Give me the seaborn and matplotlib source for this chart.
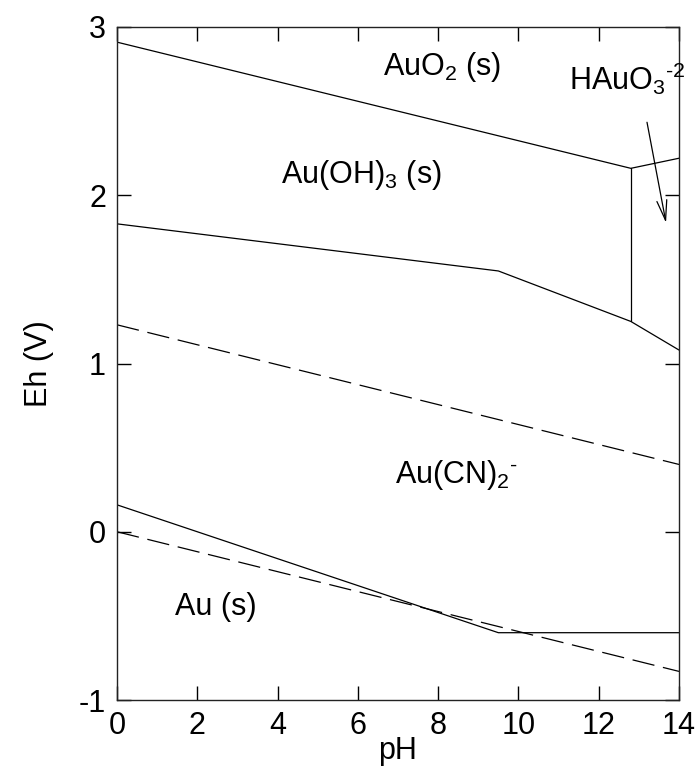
import matplotlib
matplotlib.use("Agg")
import matplotlib.pyplot as plt
import seaborn as sns
import pandas as pd

sns.set_style("ticks")
plt.rcParams['font.family'] = ['Liberation Sans', 'DejaVu Sans']
plt.rcParams['mathtext.fontset'] = 'custom'
plt.rcParams['mathtext.rm'] = 'Liberation Sans'
plt.rcParams['mathtext.it'] = 'Liberation Sans'
plt.rcParams['axes.unicode_minus'] = False
plt.rcParams['text.color'] = 'black'
plt.rcParams['xtick.color'] = 'black'
plt.rcParams['ytick.color'] = 'black'
plt.rcParams['axes.labelcolor'] = 'black'

# Solid phase boundaries (pH, Eh)
auo2_ph = [0, 12.8, 14]
auo2_eh = [2.91, 2.16, 2.22]
hauo3_ph = [12.8, 12.8]
hauo3_eh = [2.16, 1.25]
auoh3_ph = [0, 9.5, 12.8, 14]
auoh3_eh = [1.83, 1.55, 1.25, 1.08]
au_ph = [0, 9.5, 14]
au_eh = [0.16, -0.60, -0.60]
# Water stability lines (dashed)
o2_ph = [0, 14]
o2_eh = [1.23, 0.40]
h2_ph = [0, 14]
h2_eh = [0.0, -0.83]

labels = ["AuO$_2$ (s)", r"HAuO$_3$$^{\text{-2}}$", "Au(OH)$_3$ (s)",
          r"Au(CN)$_2$$^{\text{-}}$", "Au (s)"]
label_ph = [8.1, 12.7, 6.08, 8.45, 2.45]
label_eh = [2.76, 2.69, 2.12, 0.34, -0.45]

fig = plt.figure(figsize=(6.99, 7.72), dpi=100)
ax = fig.add_axes([117/699, 1-700/772, (679-117)/699, (700-27)/772])

solid = [(auo2_ph, auo2_eh), (hauo3_ph, hauo3_eh), (auoh3_ph, auoh3_eh), (au_ph, au_eh)]
for xs, ys in solid:
    sns.lineplot(x=xs, y=ys, ax=ax, color="black", lw=0.9, sort=False, estimator=None)
for xs, ys in [(o2_ph, o2_eh), (h2_ph, h2_eh)]:
    sns.lineplot(x=xs, y=ys, ax=ax, color="black", lw=0.9, sort=False, estimator=None,
                 linestyle=(0, (18, 7)))

fs = 22
for t, x, y in zip(labels, label_ph, label_eh):
    ax.text(x, y, t, fontsize=fs, ha="center", va="center")

ax.annotate("", xy=(13.69, 1.82), xytext=(13.19, 2.45),
            arrowprops=dict(arrowstyle="->,head_length=0.8,head_width=0.2",
                            color="black", lw=0.9, mutation_scale=18))

ax.set_xlim(0, 14)
ax.set_ylim(-1, 3)
ax.set_xticks(range(0, 15, 2))
ax.set_yticks(range(-1, 4))
ax.tick_params(direction="in", length=10, width=1, top=True, right=True,
               labelsize=fs, pad=8, color="black", labelcolor="black")
ax.set_xlabel("pH", fontsize=fs, labelpad=-4)
ax.set_ylabel("Eh (V)", fontsize=fs, labelpad=18)
for s in ax.spines.values():
    s.set_color("#222222")
    s.set_linewidth(1)

fig.savefig("out.png", dpi=100)
